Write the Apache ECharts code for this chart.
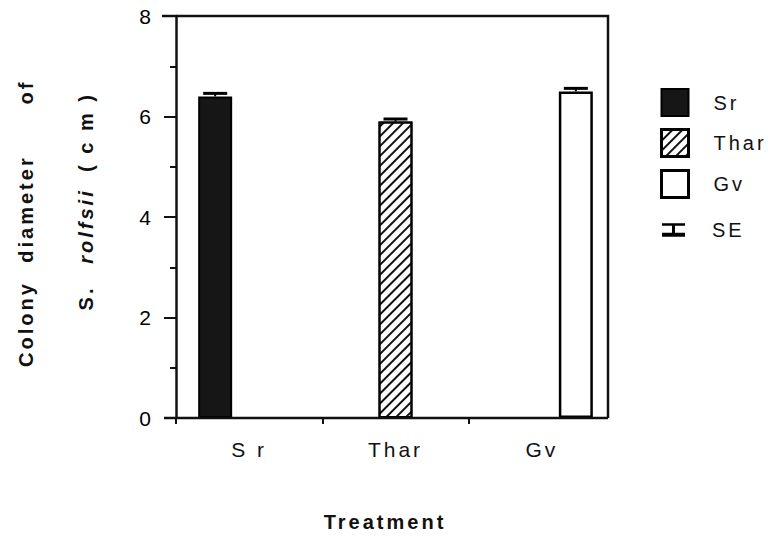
<!DOCTYPE html>
<html>
<head>
<meta charset="utf-8">
<script src="https://cdn.jsdelivr.net/npm/echarts@6/dist/echarts.min.js"></script>
<style>
  html, body { margin: 0; padding: 0; background: #fff; }
  #chart { width: 770px; height: 538px; }
  /* widely spaced lettering throughout the figure */
  #chart svg text { letter-spacing: 3px; }
</style>
</head>
<body>
<div id="chart"></div>
<script>
// Treatments on the x axis
const categories = ['Sr', 'Thar', 'Gv'];
const categoryLabels = ['S r', 'Thar', 'Gv'];
// Mean colony diameter (cm) and its standard error for each treatment
const meanDiameter = [6.4, 5.9, 6.5];
const standardError = [0.06, 0.05, 0.06];
// Y axis range
const yMin = 0, yMax = 8, yStep = 2;

const BAR_W = 34;
const FONT = '"Liberation Sans", Arial, Helvetica, sans-serif';

const chart = echarts.init(document.getElementById('chart'), null, { renderer: 'svg' });

const hatch = { symbol: 'rect', symbolSize: 1, dashArrayX: [1, 0], dashArrayY: [2, 5],
                rotation: -Math.PI / 4, color: '#111' };
const barStyles = [
  { color: '#161616', borderColor: '#000', borderWidth: 2 },
  { color: '#fff', borderColor: '#000', borderWidth: 2, decal: hatch },
  { color: '#fff', borderColor: '#000', borderWidth: 2.5 }
];

// One bar series per treatment, each holding only its own category
const barSeries = categories.map((name, i) => ({
  name: name,
  type: 'bar',
  barWidth: BAR_W,
  barGap: '0%',
  itemStyle: barStyles[i],
  data: categories.map((c, j) => (j === i ? meanDiameter[i] : '-')),
  z: 2
}));

// Standard error caps above each bar
const seSeries = {
  name: 'SE',
  type: 'custom',
  itemStyle: { color: '#000' },
  data: categories.map((c, i) => [i, meanDiameter[i], standardError[i]]),
  encode: { x: 0, y: 1 },
  z: 5,
  renderItem: function (params, api) {
    const idx = api.value(0);
    const m = api.value(1);
    const se = api.value(2);
    const top = api.coord([idx, m + se]);
    const base = api.coord([idx, m]);
    const xc = top[0] + (idx - 1) * BAR_W;
    const half = 12;
    return {
      type: 'group',
      children: [
        { type: 'line', shape: { x1: xc, y1: base[1], x2: xc, y2: top[1] },
          style: { stroke: '#000', lineWidth: 2 } },
        { type: 'line', shape: { x1: xc - half, y1: top[1], x2: xc + half, y2: top[1] },
          style: { stroke: '#000', lineWidth: 3 } }
      ]
    };
  }
};

const gridLeft = 176, gridTop = 16, gridW = 439, gridH = 402;
const frameRight = 608;
const frameStyle = { stroke: '#111', lineWidth: 2.5 };

function vtext(x, y, text, font) {
  return { type: 'text', x: x, y: y, rotation: Math.PI / 2,
           style: { text: text, font: font, fill: '#111', align: 'center', verticalAlign: 'middle' } };
}
const titleFont = 'bold 20px ' + FONT;
const titleItalic = 'italic bold 20px ' + FONT;

chart.setOption({
  backgroundColor: '#fff',
  animation: false,
  grid: { left: gridLeft, top: gridTop, width: gridW, height: gridH },
  xAxis: [
    {
      type: 'category',
      data: categories,
      boundaryGap: true,
      axisLine: { show: false },
      axisTick: { show: false },
      axisLabel: {
        margin: 21,
        fontFamily: FONT, fontSize: 21, color: '#111',
        formatter: (v, i) => categoryLabels[i]
      }
    },
    {
      // band boundaries of the three treatments, drawn as ticks only
      type: 'value',
      position: 'bottom',
      min: 0, max: categories.length, interval: 1,
      splitLine: { show: false },
      axisLine: { show: false },
      axisLabel: { show: false },
      axisTick: { show: true, length: 6, customValues: [0, 1, 2],
                  lineStyle: { color: '#111', width: 2 } }
    }
  ],
  yAxis: {
    type: 'value',
    min: yMin, max: yMax, interval: yStep,
    splitLine: { show: false },
    axisLine: { show: true, lineStyle: { color: '#111', width: 2.5 } },
    axisTick: { show: true, length: 12, lineStyle: { color: '#111', width: 2 } },
    minorTick: { show: true, splitNumber: 2, length: 6, lineStyle: { color: '#111', width: 2 } },
    axisLabel: { margin: 22, fontFamily: FONT, fontSize: 21, color: '#000' }
  },
  legend: [
    {
      data: [
        { name: 'Sr', icon: 'rect' },
        { name: 'Thar', icon: 'rect', itemStyle: { borderWidth: 3 } },
        { name: 'Gv', icon: 'rect', itemStyle: { borderWidth: 3 } }
      ],
      orient: 'vertical',
      left: 660, top: 88,
      padding: 0,
      itemWidth: 27, itemHeight: 27, itemGap: 11,
      selectedMode: false,
      textStyle: { fontFamily: FONT, fontSize: 20, color: '#111', padding: [0, 0, 0, 20] }
    },
    {
      data: [{ name: 'SE', icon: 'path://M0,0H23V2.5H13V9.5H23V13.5H0V9.5H10V2.5H0Z' }],
      orient: 'vertical',
      left: 662, top: 220,
      padding: 0,
      itemWidth: 23, itemHeight: 13.5,
      selectedMode: false,
      textStyle: { fontFamily: FONT, fontSize: 20, color: '#111', padding: [0, 0, 0, 22] }
    }
  ],
  graphic: [
    // plot frame: top, right and bottom edges
    { type: 'polyline', shape: { points: [[162, gridTop], [frameRight, gridTop], [frameRight, gridTop + gridH]] },
      style: Object.assign({ fill: null }, frameStyle), z: 10 },
    { type: 'line', shape: { x1: 164, y1: gridTop + gridH, x2: frameRight, y2: gridTop + gridH },
      style: frameStyle, z: 10 },
    // y axis title, two rotated lines
    vtext(26, 324, 'Colony', titleFont),
    vtext(26, 209, 'diameter', titleFont),
    vtext(26, 92, 'of', titleFont),
    vtext(86, 298, 'S.', titleFont),
    vtext(86, 226, 'rolfsii', titleItalic),
    vtext(86, 132, '( c m )', titleFont),
    // x axis title
    { type: 'text', x: 385, y: 522,
      style: { text: 'Treatment', font: 'bold 20px ' + FONT, fill: '#111',
               align: 'center', verticalAlign: 'middle' } }
  ],
  series: barSeries.concat([seSeries])
});
</script>
</body>
</html>
